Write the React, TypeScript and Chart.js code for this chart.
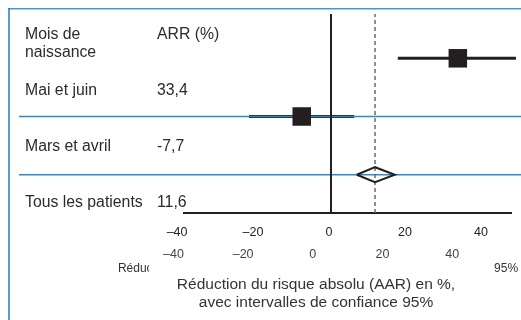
import React, { useEffect, useRef } from 'react';
import { Chart, registerables } from 'chart.js';

Chart.register(...registerables);

const FONT = '"Liberation Sans", Arial, Helvetica, sans-serif';

// ---- data ----
const headerLabels = ['Mois de', 'naissance'];
const valueHeader = 'ARR (%)';
const rowLabels = ['Mai et juin', 'Mars et avril', 'Tous les patients'];
const arrText = ['33,4', '-7,7', '11,6'];
const arrValues = [33.4, -7.7, 11.6];
const ciLow = [17.6, -21.6, 6.8];
const ciHigh = [48.7, 6.1, 16.8];
const rowPos = [3, 2, 1];
const tickValues = [-40, -20, 0, 20, 40];
const axisTitleLines = ['Réduction du risque absolu (AAR) en %,', 'avec intervalles de confiance 95%'];
const axisTitleSmall = 'Réduction du risque absolu (AAR) en %, avec intervalles de confiance 95%';

// ---- layout / style constants ----
const X_MIN = -38.7;
const X_MAX = 47.4;
const X2_MIN = -36.96;
const X2_MAX = 56.87;
const Y_MIN = 0.342;
const Y_MAX = 3.761;
const DIAMOND_HALF_H = 0.129;
const TEXT_ROW_H = 56;
const TEXT_OFFSET = 30.5;
const INK = '#231f20';
const BLUE = '#2a8bcb';

const fmtTick = (v: number | string) => {
  const n = Number(v);
  return n < 0 ? '\u2013' + Math.abs(n) : String(n);
};

const decor = {
  id: 'forestDecor',
  afterDatasetDraw(chart: any, args: any) {
    if (args.index !== 4) return;
    const ctx = chart.ctx;
    const y = chart.scales.y;
    ctx.save();
    ctx.strokeStyle = BLUE;
    ctx.lineWidth = 1.5;
    [rowPos[1], rowPos[2]].forEach((r) => {
      const py = y.getPixelForValue(r);
      ctx.beginPath();
      ctx.moveTo(19, py);
      ctx.lineTo(chart.width, py);
      ctx.stroke();
    });
    ctx.restore();
  },
  afterDraw(chart: any) {
    const ctx = chart.ctx;
    const y = chart.scales.y;
    ctx.save();
    // frame
    ctx.lineWidth = 1.5;
    ctx.strokeStyle = '#3c9bd8';
    ctx.beginPath();
    ctx.moveTo(8.3, 8.75);
    ctx.lineTo(chart.width, 8.75);
    ctx.stroke();
    ctx.strokeStyle = '#1b7ec3';
    ctx.beginPath();
    ctx.moveTo(9, 8);
    ctx.lineTo(9, chart.height);
    ctx.stroke();

    // table text
    const base = y.getPixelForValue(rowPos[1]) + TEXT_OFFSET;
    const rowY = (r: number) => base + (rowPos[1] - r) * TEXT_ROW_H;
    ctx.fillStyle = '#2b2b2b';
    ctx.font = `15.8px ${FONT}`;
    ctx.textBaseline = 'middle';
    ctx.textAlign = 'left';
    const headY = rowY(rowPos[0] + 1);
    ctx.fillText(headerLabels[0], 25, headY);
    ctx.fillText(headerLabels[1], 25, headY + 17.5);
    ctx.fillText(valueHeader, 157, headY);
    rowLabels.forEach((lab, i) => {
      const ty = rowY(rowPos[i]);
      ctx.fillText(lab, 25, ty);
      ctx.fillText(arrText[i], 157, ty);
    });

    // small axis title, partly masked
    ctx.textAlign = 'center';
    ctx.fillStyle = '#333';
    ctx.font = `12px ${FONT}`;
    ctx.fillText(axisTitleSmall, 318, 268.5);
    ctx.fillStyle = '#ffffff';
    ctx.fillRect(149, 260, 345, 60);
    ctx.fillStyle = '#333';
    ctx.font = `15.5px ${FONT}`;
    ctx.fillText(axisTitleLines[0], 316, 285);
    ctx.fillText(axisTitleLines[1], 316, 303);
    ctx.restore();
  },
};

export default function App() {
  const ref = useRef<HTMLCanvasElement | null>(null);

  useEffect(() => {
    if (!ref.current) return;
    const last = rowPos.length - 1;
    const chart = new Chart(ref.current, {
      type: 'scatter',
      data: {
        datasets: [
          {
            label: 'estimates',
            data: [0, 1].map((i) => ({ x: arrValues[i], y: rowPos[i] })),
            pointStyle: 'rect',
            pointRadius: 13.1,
            backgroundColor: INK,
            borderWidth: 0,
            showLine: false,
            clip: false,
          } as any,
          {
            label: 'overall',
            data: [
              { x: ciLow[last], y: rowPos[last] },
              { x: arrValues[last], y: rowPos[last] + DIAMOND_HALF_H },
              { x: ciHigh[last], y: rowPos[last] },
              { x: arrValues[last], y: rowPos[last] - DIAMOND_HALF_H },
              { x: ciLow[last], y: rowPos[last] },
            ],
            showLine: true,
            borderColor: INK,
            borderWidth: 2,
            borderJoinStyle: 'miter',
            pointRadius: 0,
            fill: false,
            tension: 0,
            clip: false,
          } as any,
          {
            label: 'zero',
            data: [
              { x: 0, y: Y_MIN },
              { x: 0, y: Y_MAX },
            ],
            showLine: true,
            borderColor: INK,
            borderWidth: 2,
            pointRadius: 0,
          } as any,
          {
            label: 'overall-ref',
            data: [
              { x: arrValues[last], y: Y_MIN },
              { x: arrValues[last], y: Y_MAX },
            ],
            showLine: true,
            borderColor: '#6a6a6a',
            borderWidth: 1.5,
            borderDash: [4, 3],
            pointRadius: 0,
          } as any,
          {
            label: 'ci-0',
            data: [
              { x: ciLow[0], y: rowPos[0] },
              { x: ciHigh[0], y: rowPos[0] },
            ],
            showLine: true,
            borderColor: INK,
            borderWidth: 3,
            pointRadius: 0,
            clip: false,
          } as any,
          {
            label: 'ci-1',
            data: [
              { x: ciLow[1], y: rowPos[1] },
              { x: ciHigh[1], y: rowPos[1] },
            ],
            showLine: true,
            borderColor: INK,
            borderWidth: 3,
            pointRadius: 0,
            clip: false,
          } as any,
        ],
      },
      options: {
        responsive: false,
        animation: false,
        events: [],
        layout: { autoPadding: false, padding: { left: 184, right: 10, top: 14, bottom: 51 } },
        plugins: {
          legend: { display: false },
          tooltip: { enabled: false },
          title: { display: false },
        },
        scales: {
          x: {
            type: 'linear',
            position: 'bottom',
            min: X_MIN,
            max: X_MAX,
            grid: { display: false, drawTicks: false },
            border: { display: true, color: INK, width: 2 },
            afterBuildTicks: (s: any) => {
              s.ticks = tickValues.map((v) => ({ value: v }));
            },
            afterFit: (s: any) => {
              s.height = 26;
            },
            ticks: {
              autoSkip: false,
              maxRotation: 0,
              padding: 12.5,
              labelOffset: -2,
              color: '#222',
              font: { family: FONT, size: 12.5 },
              callback: fmtTick,
            },
          },
          x2: {
            type: 'linear',
            axis: 'x',
            position: 'bottom',
            min: X2_MIN,
            max: X2_MAX,
            grid: { display: false, drawTicks: false },
            border: { display: false },
            afterBuildTicks: (s: any) => {
              s.ticks = tickValues.map((v) => ({ value: v }));
            },
            afterFit: (s: any) => {
              s.height = 30;
            },
            ticks: {
              autoSkip: false,
              maxRotation: 0,
              padding: 8.5,
              color: '#444',
              font: { family: FONT, size: 12.5 },
              callback: fmtTick,
            },
          },
          y: {
            type: 'linear',
            display: false,
            min: Y_MIN,
            max: Y_MAX,
          },
        },
      } as any,
      plugins: [decor],
    });
    return () => chart.destroy();
  }, []);

  return (
    <div style={{ position: 'fixed', left: 0, top: 0, width: 521, height: 320, background: '#fff' }}>
      <canvas ref={ref} width={521} height={320} style={{ display: 'block', width: 521, height: 320 }} />
    </div>
  );
}
